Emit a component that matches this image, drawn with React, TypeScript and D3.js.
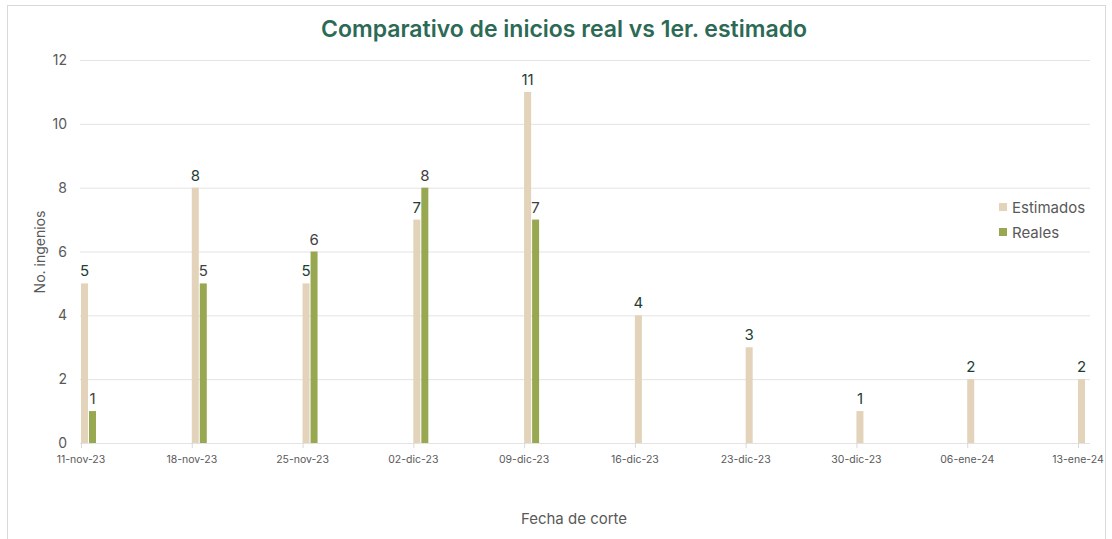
import React, { useEffect, useRef } from 'react';
import * as d3 from 'd3';

const fechas = ['11-nov-23', '18-nov-23', '25-nov-23', '02-dic-23', '09-dic-23', '16-dic-23', '23-dic-23', '30-dic-23', '06-ene-24', '13-ene-24'];
const estimados = [5, 8, 5, 7, 11, 4, 3, 1, 2, 2];
const reales: (number | null)[] = [1, 5, 6, 8, 7, null, null, null, null, null];
const yTicks = [0, 2, 4, 6, 8, 10, 12];

const W = 1112;
const H = 539;
const FONT = 'Inter, "Open Sans", sans-serif';
const C_EST = '#e3d3ba';
const C_REAL = '#97a851';

export default function App() {
  const ref = useRef<SVGSVGElement>(null);

  useEffect(() => {
    const svg = d3.select(ref.current);
    svg.selectAll('*').remove();

    const left = 81, right = 1078, top = 60, bottom = 443;
    const x = d3.scalePoint<string>().domain(fechas).range([left, right]);
    const y = d3.scaleLinear().domain([0, 12]).range([bottom, top]);
    const bw = 7;

    // frame
    svg.append('rect').attr('x', 7.5).attr('y', 5.5).attr('width', W - 14).attr('height', H + 10)
      .attr('fill', '#fff').attr('stroke', '#d9d9d9');

    svg.append('text').attr('x', 564).attr('y', 37).attr('text-anchor', 'middle')
      .attr('font-family', FONT).attr('font-weight', 600).attr('font-size', 23)
      .attr('fill', '#2d6a55').text('Comparativo de inicios real vs 1er. estimado');

    // grid
    svg.append('g').selectAll('line').data(yTicks).enter().append('line')
      .attr('x1', 80).attr('x2', 1090)
      .attr('y1', d => y(d) + 0.5).attr('y2', d => y(d) + 0.5)
      .attr('stroke', '#e3e3e3');

    svg.append('g').selectAll('text').data(yTicks).enter().append('text')
      .attr('x', 67).attr('y', d => y(d) + 5).attr('text-anchor', 'end')
      .attr('font-family', FONT).attr('font-size', 14).attr('fill', '#595959')
      .text(d => d);

    // x ticks
    svg.append('g').selectAll('line').data(fechas).enter().append('line')
      .attr('x1', d => x(d)! + 0.5).attr('x2', d => x(d)! + 0.5)
      .attr('y1', bottom).attr('y2', bottom + 5).attr('stroke', '#d9d9d9');

    svg.append('g').selectAll('text').data(fechas).enter().append('text')
      .attr('x', d => x(d)!).attr('y', bottom + 20).attr('text-anchor', 'middle')
      .attr('font-family', FONT).attr('font-size', 10.5).attr('fill', '#595959')
      .text(d => d);

    // bars
    const est = svg.append('g');
    est.selectAll('rect').data(estimados).enter().append('rect')
      .attr('x', (d, i) => x(fechas[i])!).attr('width', bw)
      .attr('y', d => y(d)).attr('height', d => bottom - y(d)).attr('fill', C_EST);
    est.selectAll('text').data(estimados).enter().append('text')
      .attr('x', (d, i) => x(fechas[i])! + bw / 2).attr('y', d => y(d) - 7)
      .attr('text-anchor', 'middle').attr('font-family', FONT).attr('font-size', 15)
      .attr('fill', '#1e3d34').text(d => d);

    const realData = reales.map((v, i) => ({ v, f: fechas[i] })).filter(d => d.v != null) as { v: number; f: string }[];
    const rl = svg.append('g');
    rl.selectAll('rect').data(realData).enter().append('rect')
      .attr('x', d => x(d.f)! + bw + 1).attr('width', bw)
      .attr('y', d => y(d.v)).attr('height', d => bottom - y(d.v)).attr('fill', C_REAL);
    rl.selectAll('text').data(realData).enter().append('text')
      .attr('x', d => x(d.f)! + bw + 1 + bw / 2).attr('y', d => y(d.v) - 7)
      .attr('text-anchor', 'middle').attr('font-family', FONT).attr('font-size', 15)
      .attr('fill', '#404040').text(d => d.v);

    // axis titles
    svg.append('text').attr('transform', 'translate(45,252) rotate(-90)').attr('text-anchor', 'middle')
      .attr('font-family', FONT).attr('font-size', 14).attr('fill', '#595959').text('No. ingenios');
    svg.append('text').attr('x', 574).attr('y', 524).attr('text-anchor', 'middle')
      .attr('font-family', FONT).attr('font-size', 15).attr('fill', '#595959').text('Fecha de corte');

    // legend
    const legend = [{ name: 'Estimados', c: C_EST }, { name: 'Reales', c: C_REAL }];
    const lg = svg.append('g').selectAll('g').data(legend).enter().append('g')
      .attr('transform', (d, i) => `translate(999,${203 + i * 25})`);
    lg.append('rect').attr('width', 8).attr('height', 8).attr('fill', d => d.c);
    lg.append('text').attr('x', 13).attr('y', 9.5).attr('font-family', FONT).attr('font-size', 15)
      .attr('fill', '#595959').text(d => d.name);
  }, []);

  return (
    <svg ref={ref} width={W} height={H} style={{ position: 'absolute', left: 0, top: 0, display: 'block' }} />
  );
}
